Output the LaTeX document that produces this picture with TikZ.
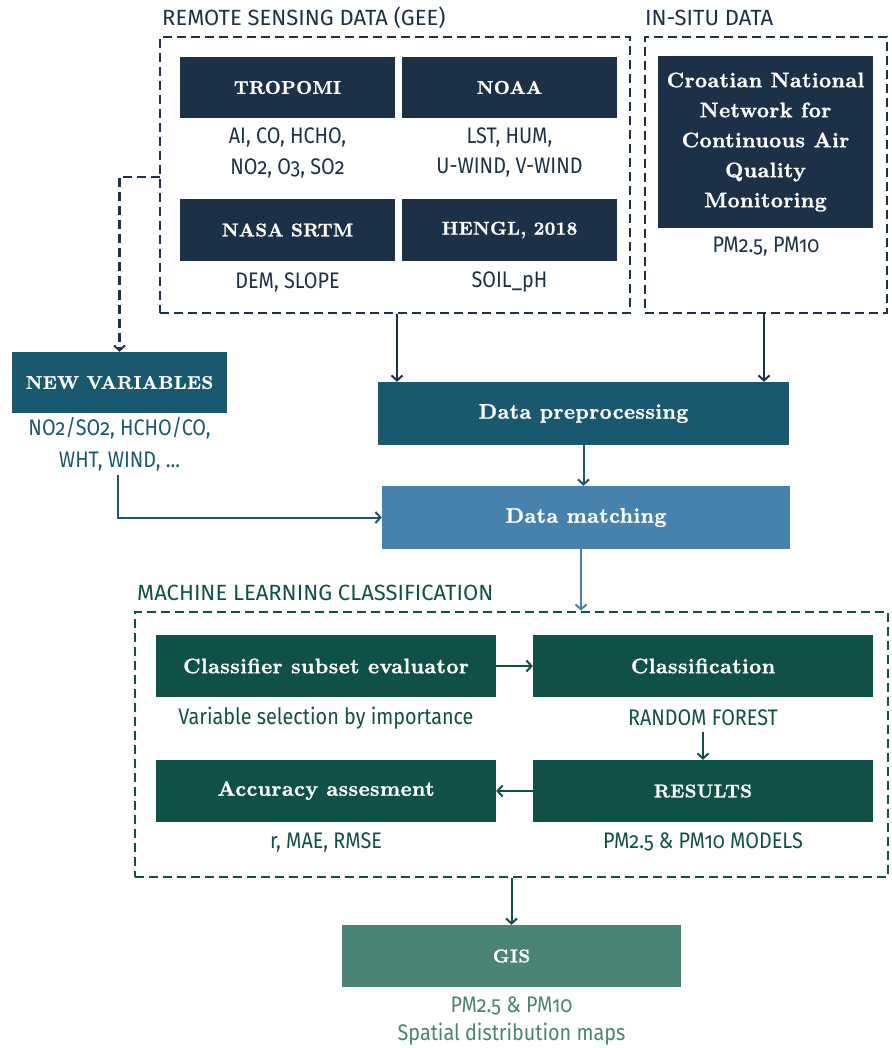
\documentclass[tikz,border=0pt]{standalone}
\usepackage{fontspec}
\usetikzlibrary{arrows.meta}
\newfontfamily\bodyf{Fira Sans}[Numbers=OldStyle,FakeStretch=0.88]
\newfontfamily\hdrf{Fira Sans}[Numbers=OldStyle]
\newfontfamily\titlef{lmroman10-bold}[Extension=.otf,LetterSpace=2,FakeBold=1.2]
\definecolor{navy}{HTML}{1C3048}
\definecolor{teal}{HTML}{1A5870}
\definecolor{sky}{HTML}{4682AB}
\definecolor{mlgreen}{HTML}{0F5048}
\definecolor{gisgreen}{HTML}{4A8275}
\tikzset{
  tbox/.style={fill=#1, text=white, inner sep=0pt, align=center,
    font=\titlef\fontsize{21}{30}\selectfont},
  cbox/.style={tbox=#1, font=\titlef\fontsize{18.5}{30}\selectfont},
  dbox/.style={draw=#1, line width=2.5pt, dash pattern=on 9pt off 5pt, inner sep=0pt},
  lbl/.style={text=#1, inner sep=0pt, font=\bodyf\fontsize{22.5}{26}\selectfont},
  hdr/.style={text=#1, inner sep=0pt, anchor=west, font=\hdrf\fontsize{22}{26}\selectfont},
  arr/.style={draw=#1, line width=2pt, -{Straight Barb[length=5pt,width=11pt,line width=2pt]}},
  darr/.style={draw=#1, line width=2.5pt, dash pattern=on 9pt off 5pt, -{Straight Barb[length=5pt,width=11pt,line width=2pt]}}
}
\begin{document}
\begin{tikzpicture}[x=1pt,y=-1pt]
\useasboundingbox (0,0) rectangle (891,1048);
% group frames
\node[dbox=navy, minimum width=470pt, minimum height=276pt] (rs) at (395,175) {};
\node[dbox=navy, minimum width=242pt, minimum height=276pt] (insitu) at (766,175) {};
\node[hdr=navy] (rsh) at (162,18) {REMOTE SENSING DATA (GEE)};
\node[hdr=navy] (ish) at (645,18) {IN-SITU DATA};
% remote sensing boxes
\node[cbox=navy, minimum width=215pt, minimum height=61pt] (trop) at (287.5,87.5) {TROPOMI};
\node[cbox=navy, minimum width=215pt, minimum height=61pt] (noaa) at (509.5,87.5) {NOAA};
\node[cbox=navy, minimum width=215pt, minimum height=62pt] (srtm) at (287.5,230) {NASA SRTM};
\node[cbox=navy, minimum width=215pt, minimum height=62pt] (hengl) at (509.5,230) {HENGL, 2018};
\node[lbl=navy] (tropa) at (287.5,137) {AI, CO, HCHO,};
\node[lbl=navy] (tropb) at (287.5,168) {NO2, O3, SO2};
\node[lbl=navy] (noaaa) at (509.5,137) {LST, HUM,};
\node[lbl=navy] (noaab) at (509.5,168) {U-WIND, V-WIND};
\node[lbl=navy] (srtma) at (287.5,282) {DEM, SLOPE};
\node[lbl=navy] (hengla) at (509.5,282) {SOIL\_pH};
% in-situ
\node[tbox=navy, minimum width=215pt, minimum height=172pt] (croat) at (765.5,142)
  {Croatian National\\Network for\\Continuous Air\\Quality\\Monitoring};
\node[lbl=navy] (croata) at (766,247) {PM2.5, PM10};
% new variables
\node[cbox=teal, minimum width=215pt, minimum height=61pt] (newvar) at (119.5,382.5) {NEW VARIABLES};
\node[lbl=teal] (nva) at (119.5,428) {NO2/SO2, HCHO/CO,};
\node[lbl=teal] (nvb) at (119.5,462) {WHT, WIND, ...};
% processing
\node[tbox=teal, minimum width=411pt, minimum height=63pt] (prep) at (583.5,413.5) {Data preprocessing};
\node[tbox=sky, minimum width=408pt, minimum height=63pt] (match) at (586,517.5) {Data matching};
% machine learning
\node[dbox=mlgreen, minimum width=753pt, minimum height=265pt] (ml) at (511.5,744.5) {};
\node[hdr=mlgreen] (mlh) at (137,593) {MACHINE LEARNING CLASSIFICATION};
\node[tbox=mlgreen, minimum width=340pt, minimum height=62pt] (cse) at (326,666) {Classifier subset evaluator};
\node[tbox=mlgreen, minimum width=340pt, minimum height=62pt] (cls) at (703,666) {Classification};
\node[tbox=mlgreen, minimum width=340pt, minimum height=62pt] (acc) at (326,790.5) {Accuracy assesment};
\node[cbox=mlgreen, minimum width=340pt, minimum height=62pt] (res) at (703,791) {RESULTS};
\node[lbl=mlgreen] (csea) at (326,718) {Variable selection by importance};
\node[lbl=mlgreen] (clsa) at (703,718) {RANDOM FOREST};
\node[lbl=mlgreen] (acca) at (326,842) {r, MAE, RMSE};
\node[lbl=mlgreen] (resa) at (703,842) {PM2.5 \& PM10 MODELS};
% GIS
\node[cbox=gisgreen, minimum width=339pt, minimum height=62pt] (gis) at (511.5,956) {GIS};
\node[lbl=gisgreen] (gisa) at (511.5,1006) {PM2.5 \& PM10};
\node[lbl=gisgreen] (gisb) at (511.5,1034) {Spatial distribution maps};
% connectors
\coordinate (rsleft) at (160,177);
\draw[darr=navy] (rsleft) -| (newvar.north);
\coordinate (rsx) at (397,0);
\draw[arr=navy] (rs.south -| rsx) -- (prep.north -| rsx);
\coordinate (isx) at (764,0);
\draw[arr=navy] (insitu.south -| isx) -- (prep.north -| isx);
\draw[arr=teal] (prep.south) -- (prep.south |- match.north);
\coordinate (nvt) at (118,475);
\draw[arr=teal] (nvt) |- (match.west);
\coordinate (mx) at (581,0);
\draw[arr=sky] (match.south -| mx) -- (ml.north -| mx);
\draw[arr=mlgreen] (cse.east) -- (cls.west);
\coordinate (rft) at (703,732);
\draw[arr=mlgreen] (rft) -- (res.north);
\draw[arr=mlgreen] (res.west) -- (acc.east |- res.west);
\draw[arr=mlgreen] (ml.south) -- (gis.north);
\end{tikzpicture}
\end{document}
